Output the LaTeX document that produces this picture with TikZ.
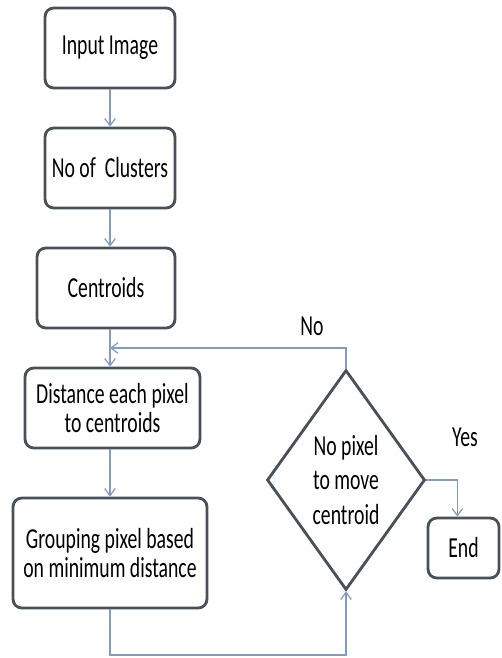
\documentclass[tikz,border=0pt]{standalone}
\usepackage{fontspec}
\setmainfont{Carlito}[FakeStretch=0.68]
\usepackage{tikz}
\usetikzlibrary{shapes.geometric,arrows.meta}
\definecolor{boxline}{RGB}{72,80,90}
\definecolor{flowline}{RGB}{130,155,195}
\tikzset{
  stepbox/.style={draw=boxline, line width=1.6pt, rounded corners=5pt, fill=white,
    align=center, font=\fontsize{16.5}{16}\selectfont, inner sep=2pt},
  decide/.style={draw=boxline, line width=1.6pt, diamond, aspect=0.7, fill=white,
    align=center, font=\fontsize{16.5}{19.5}\selectfont, inner sep=0pt},
  flow/.style={draw=flowline, line width=0.7pt, -{Straight Barb[length=4pt,width=6pt]}},
  tag/.style={font=\fontsize{16.5}{16}\selectfont}
}

\begin{document}
\begin{tikzpicture}[x=0.02cm, y=-0.02cm]
  \useasboundingbox (0,0) rectangle (501,658);

  % 左列:处理步骤
  \node (img) [stepbox, minimum width=2.6cm, minimum height=1.6cm] at (110,48) {Input Image};
  \node (ncl) [stepbox, minimum width=2.6cm, minimum height=1.6cm] at (110,168) {No of \ Clusters};
  \node (cen) [stepbox, minimum width=2.76cm, minimum height=1.6cm] at (106,288) {Centroids};
  \node (dist) [stepbox, minimum width=3.5cm, minimum height=1.6cm] at (112.5,408) {Distance each pixel\\to centroids};
  \node (grp) [stepbox, minimum width=3.88cm, minimum height=2.2cm] at (110,553) {Grouping pixel based\\on minimum distance};

  % 右侧:判断与结束
  \node (chk) [decide, minimum width=3.16cm, minimum height=4.4cm] at (346,480) {No pixel\\to move\\centroid};
  \node (fin) [stepbox, minimum width=1.42cm, minimum height=1.2cm] at (463.5,548) {End};

  % 辅助点
  \coordinate (join) at (110,348);
  \coordinate (loop) at (110,655);

  % 连线
  \draw[flow] (img) -- (ncl);
  \draw[flow] (ncl) -- (ncl |- cen.north);
  \draw[flow] (cen.south -| join) -- (dist.north -| join);
  \draw[flow] (chk.north) |- (join);
  \draw[flow] (dist.south -| join) -- (grp.north -| join);
  \draw[flow] (grp.south -| loop) -- (loop) -| (chk.south);
  \draw[flow] (chk.east) -| ([xshift=-3.5pt]fin.north);

  % 分支标注
  \node (no) [tag] at (312,326) {No};
  \node (yes) [tag] at (465,437) {Yes};
\end{tikzpicture}
\end{document}
